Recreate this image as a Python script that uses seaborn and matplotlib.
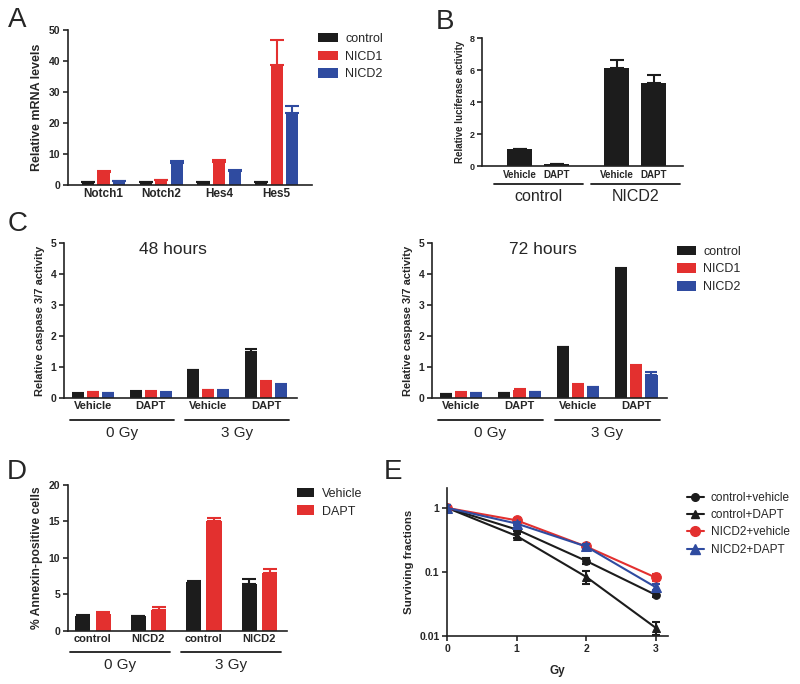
import numpy as np
import pandas as pd
import matplotlib.pyplot as plt
import seaborn as sns
from matplotlib.patches import Patch
from matplotlib.lines import Line2D

sns.set_style('ticks')
plt.rcParams['font.family'] = ['Liberation Sans', 'DejaVu Sans']
plt.rcParams['axes.linewidth'] = 1.2
plt.rcParams['axes.edgecolor'] = '#222222'
plt.rcParams['xtick.major.width'] = 1.2
plt.rcParams['ytick.major.width'] = 1.2
plt.rcParams['xtick.major.size'] = 3.5
plt.rcParams['ytick.major.size'] = 3.5
plt.rcParams['xtick.major.pad'] = 2
plt.rcParams['ytick.major.pad'] = 2

BLACK = '#1c1c1c'
RED = '#e3302f'
BLUE = '#2f4ba0'

# ---- A: relative mRNA levels ----
genes = ['Notch1', 'Notch2', 'Hes4', 'Hes5']
a_lines = ['control', 'NICD1', 'NICD2']
mrna_control = [1.0, 1.0, 1.0, 1.0]
mrna_nicd1 = [4.3, 1.5, 7.4, 38.8]
mrna_nicd2 = [1.2, 7.0, 4.5, 23.3]
mrna_control_err = [0.1, 0.1, 0.1, 0.1]
mrna_nicd1_err = [0.3, 0.1, 0.7, 8.0]
mrna_nicd2_err = [0.1, 0.9, 0.3, 2.1]

# ---- B: luciferase reporter ----
b_groups = ['control', 'NICD2']
b_treat = ['Vehicle', 'DAPT']
luc_vehicle = [1.05, 6.15]
luc_dapt = [0.12, 5.22]
luc_vehicle_err = [0.0, 0.45]
luc_dapt_err = [0.03, 0.45]

# ---- C: caspase 3/7 ----
c_conditions = ['0 Gy Vehicle', '0 Gy DAPT', '3 Gy Vehicle', '3 Gy DAPT']
c_tick_labels = ['Vehicle', 'DAPT', 'Vehicle', 'DAPT']
dose_labels = ['0 Gy', '3 Gy']
casp48_control = [0.14, 0.18, 0.89, 1.48]
casp48_nicd1 = [0.19, 0.21, 0.26, 0.52]
casp48_nicd2 = [0.16, 0.17, 0.24, 0.43]
casp48_control_err = [0.01, 0.05, 0.02, 0.11]
casp48_nicd1_err = [0.01, 0.02, 0.01, 0.02]
casp48_nicd2_err = [0.01, 0.01, 0.01, 0.01]
casp72_control = [0.12, 0.16, 1.63, 4.13]
casp72_nicd1 = [0.17, 0.27, 0.43, 1.03]
casp72_nicd2 = [0.16, 0.19, 0.35, 0.73]
casp72_control_err = [0.01, 0.01, 0.02, 0.08]
casp72_nicd1_err = [0.01, 0.01, 0.02, 0.02]
casp72_nicd2_err = [0.01, 0.01, 0.01, 0.10]

# ---- D: annexin ----
d_conditions = ['0 Gy control', '0 Gy NICD2', '3 Gy control', '3 Gy NICD2']
d_tick_labels = ['control', 'NICD2', 'control', 'NICD2']
d_treat = ['Vehicle', 'DAPT']
annexin_vehicle = [2.05, 2.0, 6.7, 6.45]
annexin_dapt = [2.3, 2.9, 15.05, 8.0]
annexin_vehicle_err = [0.1, 0.05, 0.1, 0.65]
annexin_dapt_err = [0.3, 0.4, 0.4, 0.5]

# ---- E: clonogenic survival ----
doses = [0, 1, 2, 3]
e_groups = ['control+vehicle', 'control+DAPT', 'NICD2+vehicle', 'NICD2+DAPT']
sf_control_vehicle = [1.0, 0.46, 0.149, 0.044]
sf_control_dapt = [1.0, 0.365, 0.084, 0.0135]
sf_nicd2_vehicle = [1.0, 0.64, 0.25, 0.082]
sf_nicd2_dapt = [1.0, 0.57, 0.25, 0.058]
sf_control_vehicle_err = [0.1, 0.03, 0.015, 0.004]
sf_control_dapt_err = [0.1, 0.03, 0.02, 0.003]
sf_nicd2_vehicle_err = [0.1, 0.04, 0.02, 0.01]
sf_nicd2_dapt_err = [0.1, 0.03, 0.02, 0.006]


def long_df(cats, levels, values, errs, xname, hname):
    rows = []
    for lvl, vals, es in zip(levels, values, errs):
        for c, v, e in zip(cats, vals, es):
            rows.append({xname: c, hname: lvl, 'value': v, 'err': e})
    return pd.DataFrame(rows)


def bar_panel(ax, df, xname, hname, cats, levels, colors, width, gap, capsize):
    sns.barplot(data=df, x=xname, y='value', hue=hname, order=cats, hue_order=levels,
                palette=colors, width=width, gap=gap, errorbar=None, saturation=1,
                linewidth=0, legend=False, ax=ax)
    # one-sided (upper) error bars, same colour as the bar
    for cont, lvl, col in zip(ax.containers, levels, colors):
        sub = df[df[hname] == lvl].set_index(xname).loc[cats]
        xs = [b.get_x() + b.get_width() / 2 for b in cont]
        ax.errorbar(xs, sub['value'], yerr=[np.zeros(len(cats)), sub['err']], fmt='none',
                    ecolor=col, elinewidth=1.5, capsize=capsize, capthick=1.5)
    ax.set_xlabel('')
    sns.despine(ax=ax)
    ax.tick_params(axis='x', length=0)


def group_lines(ax, spans, labels, line_y, text_y, fs):
    trans = ax.get_xaxis_transform()
    for (x0, x1), lab in zip(spans, labels):
        ax.plot([x0, x1], [line_y, line_y], color=BLACK, lw=1.3, transform=trans, clip_on=False)
        ax.text((x0 + x1) / 2, text_y, lab, transform=trans, ha='center', va='center', fontsize=fs)


def bar_legend(labels, colors, x, y, fs, hl):
    handles = [Patch(facecolor=c, edgecolor='none') for c in colors]
    fig.legend(handles, labels, loc='upper left', bbox_to_anchor=(x, y), frameon=False,
               fontsize=fs, handlelength=hl, handleheight=0.8, labelspacing=0.45,
               handletextpad=0.6, borderpad=0, borderaxespad=0)


fig = plt.figure(figsize=(8, 6.84), dpi=100)
axA = fig.add_axes([0.085, 0.7295, 0.305, 0.2266])
axB = fig.add_axes([0.6025, 0.7573, 0.251, 0.187])
axC1 = fig.add_axes([0.08, 0.4181, 0.291, 0.2266])
axC2 = fig.add_axes([0.54, 0.4181, 0.294, 0.2266])
axD = fig.add_axes([0.085, 0.0775, 0.274, 0.2135])
axE = fig.add_axes([0.559, 0.0702, 0.276, 0.2164])

# A
dfA = long_df(genes, a_lines, [mrna_control, mrna_nicd1, mrna_nicd2],
              [mrna_control_err, mrna_nicd1_err, mrna_nicd2_err], 'gene', 'line')
bar_panel(axA, dfA, 'gene', 'line', genes, a_lines, [BLACK, RED, BLUE], 0.81, 0.22, 5)
axA.set_xlim(-0.615, 3.61)
axA.set_ylim(0, 50)
axA.set_yticks([0, 10, 20, 30, 40, 50])
axA.set_ylabel('Relative mRNA levels', fontsize=9, fontweight='bold', labelpad=4)
for lab in axA.get_xticklabels():
    lab.set_fontsize(8.5)
    lab.set_fontweight('bold')
for lab in axA.get_yticklabels():
    lab.set_fontsize(7.5)
    lab.set_fontweight('bold')
bar_legend(a_lines, [BLACK, RED, BLUE], 0.3975, 0.952, 9, 1.6)

# B
dfB = long_df(b_groups, b_treat, [luc_vehicle, luc_dapt], [luc_vehicle_err, luc_dapt_err],
              'group', 'treat')
bar_panel(axB, dfB, 'group', 'treat', b_groups, b_treat, [BLACK, BLACK], 0.76, 0.32, 5)
axB.set_xlim(-0.58, 1.49)
axB.set_ylim(0, 8)
axB.set_yticks([0, 2, 4, 6, 8])
axB.set_xticks([])
axB.set_ylabel('Relative luciferase activity', fontsize=7, fontweight='bold', labelpad=3)
for lab in axB.get_yticklabels():
    lab.set_fontsize(6.5)
    lab.set_fontweight('bold')
transB = axB.get_xaxis_transform()
for cont, lvl in zip(axB.containers, b_treat):
    for bar in cont:
        axB.text(bar.get_x() + bar.get_width() / 2, -0.07, lvl, transform=transB,
                 ha='center', va='center', fontsize=7, fontweight='bold')
group_lines(axB, [(i - 0.46, i + 0.46) for i in range(len(b_groups))], b_groups,
            -0.14, -0.235, 11.5)

# C
for ax, vals, errs, title in [
        (axC1, [casp48_control, casp48_nicd1, casp48_nicd2],
         [casp48_control_err, casp48_nicd1_err, casp48_nicd2_err], '48 hours'),
        (axC2, [casp72_control, casp72_nicd1, casp72_nicd2],
         [casp72_control_err, casp72_nicd1_err, casp72_nicd2_err], '72 hours')]:
    dfC = long_df(c_conditions, a_lines, vals, errs, 'cond', 'line')
    bar_panel(ax, dfC, 'cond', 'line', c_conditions, a_lines, [BLACK, RED, BLUE], 0.78, 0.2, 4)
    ax.set_xlim(-0.5, 3.53)
    ax.set_ylim(0, 5)
    ax.set_yticks([0, 1, 2, 3, 4, 5])
    ax.set_xticks(range(len(c_conditions)))
    ax.set_xticklabels(c_tick_labels, fontsize=8, fontweight='bold')
    for lab in ax.get_yticklabels():
        lab.set_fontsize(7.5)
        lab.set_fontweight('bold')
    ax.set_ylabel('Relative caspase 3/7 activity', fontsize=8, fontweight='bold', labelpad=4)
    ax.text(0.47, 0.96, title, transform=ax.transAxes, ha='center', va='center', fontsize=12.5)
    group_lines(ax, [(-0.4, 1.4), (1.6, 3.4)], dose_labels, -0.142, -0.226, 11)
bar_legend(a_lines, [BLACK, RED, BLUE], 0.846, 0.641, 9, 1.5)

# D
dfD = long_df(d_conditions, d_treat, [annexin_vehicle, annexin_dapt],
              [annexin_vehicle_err, annexin_dapt_err], 'cond', 'treat')
bar_panel(axD, dfD, 'cond', 'treat', d_conditions, d_treat, [BLACK, RED], 0.73, 0.25, 5)
axD.set_xlim(-0.45, 3.5)
axD.set_ylim(0, 20)
axD.set_yticks([0, 5, 10, 15, 20])
axD.set_xticks(range(len(d_conditions)))
axD.set_xticklabels(d_tick_labels, fontsize=8, fontweight='bold')
for lab in axD.get_yticklabels():
    lab.set_fontsize(7.5)
    lab.set_fontweight('bold')
axD.set_ylabel('% Annexin-positive cells', fontsize=8.7, fontweight='bold', labelpad=4)
group_lines(axD, [(-0.42, 1.38), (1.58, 3.38)], dose_labels, -0.144, -0.233, 11)
bar_legend(d_treat, [BLACK, RED], 0.371, 0.287, 9, 1.4)

# E
e_vals = [sf_control_vehicle, sf_control_dapt, sf_nicd2_vehicle, sf_nicd2_dapt]
e_errs = [sf_control_vehicle_err, sf_control_dapt_err, sf_nicd2_vehicle_err, sf_nicd2_dapt_err]
e_colors = [BLACK, BLACK, RED, BLUE]
e_markers = ['o', '^', 'o', '^']
e_msize = [5.5, 5.5, 7, 6.5]
dfE = pd.DataFrame([{'Gy': d, 'group': g, 'sf': v, 'err': e}
                    for g, vals, errs in zip(e_groups, e_vals, e_errs)
                    for d, v, e in zip(doses, vals, errs)])
for g, col, mk, ms in zip(e_groups, e_colors, e_markers, e_msize):
    sub = dfE[dfE['group'] == g]
    sns.lineplot(data=sub, x='Gy', y='sf', color=col, marker=mk, markersize=ms,
                 markeredgecolor=col, linewidth=1.5, ax=axE)
    axE.errorbar(sub['Gy'], sub['sf'], yerr=sub['err'], fmt='none', ecolor=col,
                 elinewidth=1.5, capsize=3, capthick=1.5)
axE.set_yscale('log')
axE.set_ylim(0.01, 2.05)
axE.set_xlim(0, 3.18)
axE.set_xticks(doses)
axE.set_yticks([0.01, 0.1, 1])
axE.set_yticklabels(['0.01', '0.1', '1'])
axE.minorticks_off()
for lab in axE.get_xticklabels() + axE.get_yticklabels():
    lab.set_fontsize(7.5)
    lab.set_fontweight('bold')
axE.set_xlabel('Gy', fontsize=8.5, fontweight='bold', labelpad=8)
axE.set_ylabel('Surviving fractions', fontsize=8.2, fontweight='bold', labelpad=4)
sns.despine(ax=axE)
e_handles = [Line2D([0], [0], color=c, marker=m, markersize=s, lw=1.5)
             for c, m, s in zip(e_colors, e_markers, e_msize)]
fig.legend(e_handles, e_groups, loc='upper left', bbox_to_anchor=(0.859, 0.281),
           frameon=False, fontsize=8.5, handlelength=1.4, labelspacing=0.45,
           handletextpad=0.6, borderpad=0, borderaxespad=0)

# panel letters
for lab, x, y in [('A', 17, 20), ('B', 445, 22), ('C', 18, 224), ('D', 17, 472), ('E', 393, 472)]:
    fig.text(x / 800, 1 - y / 684, lab, ha='center', va='center', fontsize=20)

fig.savefig('out.png', dpi=100)
